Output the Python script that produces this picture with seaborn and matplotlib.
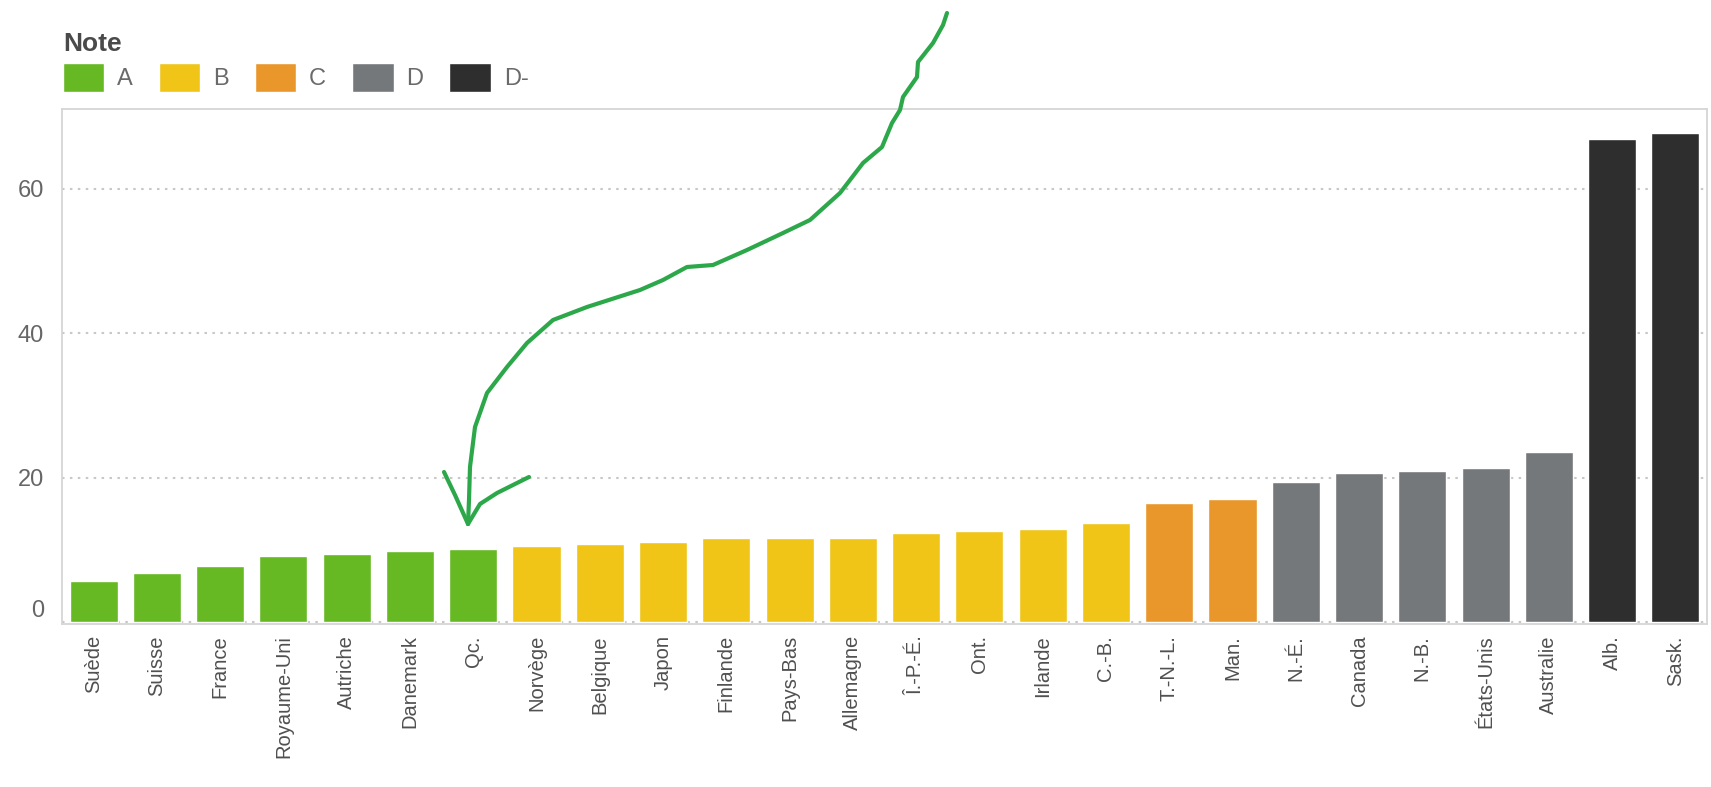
import pandas as pd
import seaborn as sns
import matplotlib.pyplot as plt
from matplotlib.patches import Patch
from matplotlib.lines import Line2D
from matplotlib.transforms import Affine2D, ScaledTranslation
import numpy as np

# data
regions = ["Suède", "Suisse", "France", "Royaume-Uni", "Autriche", "Danemark", "Qc.",
           "Norvège", "Belgique", "Japon", "Finlande", "Pays-Bas", "Allemagne", "Î.-P.-É.",
           "Ont.", "Irlande", "C.-B.", "T.-N.-L.", "Man.", "N.-É.", "Canada", "N.-B.",
           "États-Unis", "Australie", "Alb.", "Sask."]
values = [5.7, 6.8, 7.8, 9.2, 9.5, 9.8, 10.1,
          10.5, 10.8, 11.1, 11.7, 11.7, 11.7, 12.3,
          12.6, 12.9, 13.7, 16.5, 17.1, 19.4, 20.6, 20.9,
          21.4, 23.5, 66.8, 67.7]
grades = ["A"] * 7 + ["B"] * 10 + ["C"] * 2 + ["D"] * 5 + ["D-"] * 2
grade_order = ["A", "B", "C", "D", "D-"]
grade_colors = {"A": "#66b922", "B": "#f0c518", "C": "#e9972a", "D": "#75787b", "D-": "#2e2e2e"}

df = pd.DataFrame({"Région": regions, "Valeur": values, "Note": grades})

sns.set_style("white")
plt.rcParams["font.family"] = ["Liberation Sans", "DejaVu Sans"]

W, H = 1711, 787
fig = plt.figure(figsize=(W / 100, H / 100), dpi=100)
ax = fig.add_axes([62 / W, 1 - 624 / H, (1707 - 62) / W, (624 - 109) / H])

sns.barplot(data=df, x="Région", y="Valeur", hue="Note", order=regions,
            hue_order=grade_order, palette=grade_colors, dodge=False,
            width=0.76, saturation=1, legend=False, ax=ax)

ax.set_xlim(-0.5, len(regions) - 0.5)
ax.set_ylim(-0.25, 71)
ax.set_yticks([0, 20, 40, 60])
ax.set_xlabel("")
ax.set_ylabel("")

ax.yaxis.grid(True, linestyle=(0, (1.2, 2.6)), color="#c8c8c8", linewidth=1.5)
ax.set_axisbelow(True)
for s in ax.spines.values():
    s.set_color("#d6d6d6")
    s.set_linewidth(1.3)

ax.tick_params(axis="y", labelsize=17, colors="#666666", length=7, color="#cfcfcf", pad=6)
ax.tick_params(axis="x", which="major", labelsize=14.5, labelcolor="#505050", length=0, pad=8)
ax.set_xticks(np.arange(len(regions) + 1) - 0.5, minor=True)
ax.tick_params(axis="x", which="minor", length=7, color="#cfcfcf", width=1.3)
plt.setp(ax.get_xticklabels(), rotation=90)

# Tableau lifts the "0" label above the baseline
zero_lab = ax.get_yticklabels()[0]
zero_lab.set_transform(zero_lab.get_transform() + ScaledTranslation(0, 0.14, fig.dpi_scale_trans))

# legend above the plot
handles = [Patch(facecolor=grade_colors[g], label=g) for g in grade_order]
leg = fig.legend(handles=handles, title="Note", ncol=5, loc="upper left",
                 bbox_to_anchor=(63 / W, 1 - 32 / H), frameon=False, fontsize=17,
                 handlelength=1.75, handleheight=1.5, columnspacing=1.1,
                 handletextpad=0.55, alignment="left", title_fontsize=19,
                 borderpad=0, borderaxespad=0, labelspacing=0.3)
leg.get_title().set_fontweight("bold")
leg.get_title().set_color("#4a4a4a")
for t in leg.get_texts():
    t.set_color("#6a6a6a")

# hand-drawn green arrow, in image pixel coordinates (origin top left)
px = Affine2D().scale(1 / W, -1 / H).translate(0, 1) + fig.transFigure
stroke = [(947, 13), (943, 25), (933, 43), (918, 62), (917, 77), (903, 97), (900, 110),
          (892, 123), (882, 147), (863, 163), (850, 180), (840, 193), (810, 220),
          (783, 233), (747, 250), (713, 265), (687, 267), (663, 280), (640, 290),
          (587, 307), (553, 320), (527, 343), (507, 367), (487, 393), (475, 427),
          (470, 467), (469, 500), (468, 524)]
left_head = [(444, 472), (455, 495), (468, 524)]
right_head = [(529, 477), (497, 493), (480, 504), (468, 524)]
for seg in (stroke, left_head, right_head):
    xs, ys = zip(*seg)
    fig.add_artist(Line2D(xs, ys, transform=px, color="#2ca84a", linewidth=3,
                          solid_capstyle="round", solid_joinstyle="round"))

fig.savefig("out.png", dpi=100)
